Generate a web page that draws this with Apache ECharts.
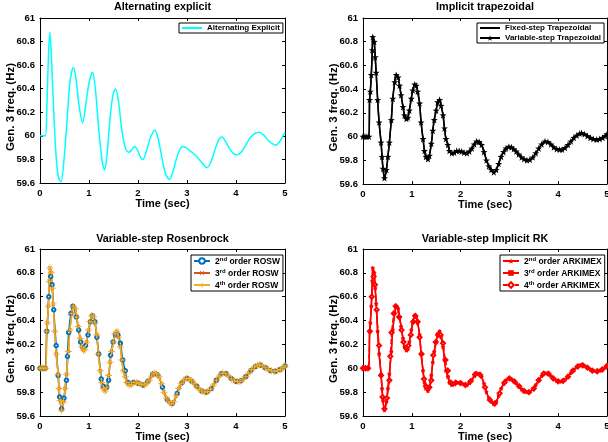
<!DOCTYPE html>
<html>
<head>
<meta charset="utf-8">
<script src="https://cdn.jsdelivr.net/npm/echarts@6/dist/echarts.min.js"></script>
<style>
html,body{margin:0;padding:0;background:#fff;}
#chart{width:608px;height:442px;}
</style>
</head>
<body>
<div id="chart"></div>
<script>
// ---------- data ----------
const X_TICKS = [0, 1, 2, 3, 4, 5];
const Y_TICKS = [59.6, 59.8, 60, 60.2, 60.4, 60.6, 60.8, 61];

const PANEL_TITLES = ['Alternating explicit', 'Implicit trapezoidal', 'Variable-step Rosenbrock', 'Variable-step Implicit RK'];

// Alternating explicit (cyan)
const TIME_AE = [0,0.05,0.11,0.14,0.17,0.2,0.23,0.27,0.31,0.35,0.39,0.43,0.49,0.55,0.61,0.68,0.73,0.8,0.87,0.93,1.0,1.07,1.13,1.2,1.27,1.32,1.37,1.43,1.49,1.54,1.6,1.67,1.74,1.81,1.87,1.93,1.99,2.05,2.1,2.17,2.25,2.34,2.41,2.48,2.56,2.64,2.71,2.78,2.85,2.91,2.98,3.07,3.16,3.25,3.33,3.4,3.48,3.56,3.64,3.71,3.79,3.87,3.95,4.03,4.12,4.21,4.3,4.39,4.47,4.56,4.64,4.72,4.81,4.89,4.96,5.0];
const FREQ_AE = [60,60,60,60.25,60.65,60.88,60.7,60.3,59.95,59.72,59.63,59.61,59.8,60.12,60.45,60.58,60.5,60.25,60.11,60.25,60.45,60.54,60.4,60.05,59.78,59.71,59.85,60.15,60.35,60.4,60.3,60.05,59.9,59.86,59.88,59.91,59.88,59.82,59.8,59.87,59.98,60.05,59.98,59.83,59.68,59.63,59.69,59.8,59.88,59.91,59.9,59.87,59.84,59.8,59.76,59.73,59.77,59.87,59.96,59.99,59.95,59.89,59.85,59.84,59.87,59.93,59.99,60.02,60.03,60.01,59.97,59.94,59.92,59.95,60.0,60.03];

// Implicit solution (trapezoidal / ROSW 3rd,4th / ARKIMEX 2nd,3rd)
const TIME_IMP = [0,0.04,0.08,0.12,0.135,0.15,0.17,0.19,0.2,0.23,0.25,0.27,0.3,0.33,0.37,0.39,0.41,0.44,0.48,0.51,0.54,0.58,0.61,0.65,0.68,0.72,0.75,0.78,0.82,0.85,0.89,0.92,0.95,0.99,1.02,1.06,1.09,1.12,1.16,1.19,1.23,1.26,1.29,1.33,1.36,1.4,1.43,1.46,1.5,1.53,1.57,1.6,1.64,1.67,1.7,1.74,1.77,1.82,1.87,1.92,1.97,2.02,2.07,2.13,2.18,2.23,2.28,2.33,2.38,2.43,2.48,2.53,2.58,2.63,2.68,2.73,2.78,2.83,2.88,2.93,2.99,3.04,3.09,3.14,3.19,3.25,3.3,3.36,3.42,3.48,3.54,3.6,3.66,3.73,3.79,3.85,3.91,3.97,4.03,4.08,4.14,4.2,4.26,4.32,4.38,4.44,4.48,4.54,4.6,4.66,4.72,4.79,4.85,4.91,4.96,5.0];
const FREQ_IMP = [60,60,60,60,60.31,60.38,60.52,60.73,60.84,60.8,60.67,60.54,60.31,60.12,59.95,59.83,59.73,59.65,59.72,59.83,59.95,60.14,60.32,60.46,60.52,60.5,60.43,60.35,60.25,60.18,60.15,60.16,60.22,60.32,60.39,60.44,60.43,60.38,60.28,60.12,59.98,59.88,59.83,59.81,59.84,59.94,60.05,60.14,60.22,60.29,60.31,60.26,60.18,60.07,59.98,59.93,59.88,59.86,59.865,59.88,59.88,59.875,59.865,59.86,59.875,59.9,59.935,59.96,59.955,59.93,59.87,59.8,59.75,59.72,59.7,59.72,59.77,59.83,59.87,59.9,59.915,59.91,59.895,59.875,59.85,59.825,59.81,59.8,59.805,59.825,59.86,59.9,59.935,59.96,59.955,59.935,59.91,59.895,59.89,59.89,59.905,59.93,59.96,59.99,60.01,60.025,60.03,60.02,60.005,59.99,59.98,59.975,59.98,59.99,60.005,60.02];

// Second sampling of the implicit solution (ROSW 2nd order / ARKIMEX 4th order markers)
const TIME_ALT = [0,0.05,0.1,0.14,0.18,0.218,0.245,0.28,0.33,0.37,0.4,0.44,0.49,0.54,0.56,0.585,0.63,0.67,0.74,0.79,0.83,0.88,0.93,0.98,1.03,1.07,1.12,1.16,1.2,1.25,1.29,1.36,1.4,1.44,1.49,1.54,1.59,1.64,1.69,1.74,1.8,1.9,2.0,2.1,2.2,2.3,2.4,2.5,2.6,2.7,2.8,2.9,3.0,3.1,3.2,3.3,3.4,3.5,3.6,3.7,3.8,3.9,4.0,4.1,4.2,4.3,4.4,4.5,4.6,4.7,4.8,4.9,5.0];
const FREQ_ALT = [60,60,60,60.31,60.6,60.77,60.7,60.49,60.19,59.94,59.76,59.66,59.75,59.9,60.1,60.3,60.46,60.52,60.43,60.32,60.22,60.17,60.19,60.28,60.39,60.44,60.39,60.26,60.12,59.91,59.85,59.84,59.9,60.11,60.22,60.28,60.28,60.21,60.07,59.98,59.88,59.88,59.875,59.86,59.89,59.95,59.945,59.84,59.735,59.705,59.79,59.88,59.915,59.89,59.85,59.81,59.8,59.83,59.9,59.955,59.955,59.915,59.89,59.895,59.93,59.98,60.015,60.025,60.005,59.98,59.975,59.99,60.02];

// ---------- helpers ----------
const pairs = (t, f) => t.map((x, i) => [x, f[i]]);
const FONT = 'Liberation Sans, Arial, Helvetica, sans-serif';
const STAR = 'path://M5,0 L6.176,3.382 L9.755,3.455 L6.902,5.618 L7.939,9.045 L5,7 L2.061,9.045 L3.098,5.618 L0.245,3.455 L3.824,3.382 Z';
const PLUS = 'path://M4.3,0 L5.7,0 L5.7,4.3 L10,4.3 L10,5.7 L5.7,5.7 L5.7,10 L4.3,10 L4.3,5.7 L0,5.7 L0,4.3 L4.3,4.3 Z';

const GRIDS = [
  {left: 40, top: 18, width: 245, height: 165, outerBoundsMode: 'none', containLabel: false},
  {left: 363, top: 18, width: 244, height: 166, outerBoundsMode: 'none', containLabel: false},
  {left: 40, top: 249, width: 245, height: 167, outerBoundsMode: 'none', containLabel: false},
  {left: 363, top: 249, width: 244, height: 167, outerBoundsMode: 'none', containLabel: false}
];

const xMin = X_TICKS[0], xMax = X_TICKS[X_TICKS.length - 1], xInt = X_TICKS[1] - X_TICKS[0];
const yMin = Y_TICKS[0], yMax = Y_TICKS[Y_TICKS.length - 1];
const yInt = +(Y_TICKS[1] - Y_TICKS[0]).toFixed(2);

const axisLineStyle = {color: '#000', width: 1};
const xAxes = [], yAxes = [], titles = [];
GRIDS.forEach((g, i) => {
  xAxes.push({
    gridIndex: i, type: 'value', min: xMin, max: xMax, interval: xInt,
    axisLine: {show: true, onZero: false, lineStyle: axisLineStyle},
    axisTick: {show: true, inside: true, length: 3, lineStyle: axisLineStyle},
    axisLabel: {color: '#000', fontFamily: FONT, fontWeight: 'bold', fontSize: 9.5, margin: 5},
    splitLine: {show: false},
    name: 'Time (sec)', nameLocation: 'middle', nameGap: 15, nameMoveOverlap: false,
    nameTextStyle: {color: '#000', fontFamily: FONT, fontWeight: 'bold', fontSize: 11}
  });
  xAxes.push({
    gridIndex: i, type: 'value', position: 'top', min: xMin, max: xMax, interval: xInt,
    axisLine: {show: true, onZero: false, lineStyle: axisLineStyle},
    axisTick: {show: true, inside: true, length: 3, lineStyle: axisLineStyle},
    axisLabel: {show: false}, splitLine: {show: false}
  });
  yAxes.push({
    gridIndex: i, type: 'value', min: yMin, max: yMax, interval: yInt,
    axisLine: {show: true, onZero: false, lineStyle: axisLineStyle},
    axisTick: {show: true, inside: true, length: 3, lineStyle: axisLineStyle},
    axisLabel: {color: '#000', fontFamily: FONT, fontWeight: 'bold', fontSize: 9.5, margin: 5,
      formatter: v => String(+(+v).toFixed(1))},
    splitLine: {show: false},
    name: 'Gen. 3 freq. (Hz)', nameLocation: 'middle', nameGap: 23, nameRotate: 90, nameMoveOverlap: false,
    nameTextStyle: {color: '#000', fontFamily: FONT, fontWeight: 'bold', fontSize: 11.5, padding: [0, 13, 0, 0]}
  });
  yAxes.push({
    gridIndex: i, type: 'value', position: 'right', min: yMin, max: yMax, interval: yInt,
    axisLine: {show: true, onZero: false, lineStyle: axisLineStyle},
    axisTick: {show: true, inside: true, length: 3, lineStyle: axisLineStyle},
    axisLabel: {show: false}, splitLine: {show: false}
  });
  titles.push({
    text: PANEL_TITLES[i], left: g.left + g.width / 2, textAlign: 'center',
    top: i < 2 ? 2 : 234, padding: 0,
    textStyle: {color: '#000', fontFamily: FONT, fontWeight: 'bold', fontSize: 10.8}
  });
});

const C_BLUE = '#0072BD', C_ORANGE = '#D95319', C_YELLOW = '#EDB120';
const CLEAR = 'rgba(0,0,0,0)';

function line(name, grid, data, color, extra) {
  return Object.assign({
    name, type: 'line', xAxisIndex: grid * 2, yAxisIndex: grid * 2,
    data, smooth: 0.3, showSymbol: false, symbol: 'circle',
    lineStyle: {color, width: 1.5}, itemStyle: {color: CLEAR, borderColor: CLEAR},
    animation: false, silent: true
  }, extra || {});
}

const impData = pairs(TIME_IMP, FREQ_IMP);
const altData = pairs(TIME_ALT, FREQ_ALT);

const series = [
  line('Alternating Explicit', 0, pairs(TIME_AE, FREQ_AE), '#00FFFF'),
  line('Fixed-step Trapezoidal', 1, impData, '#000'),
  line('Variable-step Trapezoidal', 1, impData, '#000', {showSymbol: true, symbol: STAR, symbolSize: 7,
    itemStyle: {color: '#000'}}),
  line('2nd order ROSW', 2, altData, C_BLUE, {showSymbol: true, symbol: 'emptyCircle', symbolSize: 3.5,
    itemStyle: {color: C_BLUE, borderColor: C_BLUE, borderWidth: 1}}),
  line('3rd order ROSW', 2, impData, C_ORANGE, {showSymbol: true, symbol: PLUS, symbolRotate: 45, symbolSize: 5,
    itemStyle: {color: C_ORANGE}}),
  line('4th order ROSW', 2, impData, C_YELLOW, {showSymbol: true, symbol: PLUS, symbolSize: 7,
    itemStyle: {color: C_YELLOW}}),
  line('4th order ARKIMEX', 3, altData, '#FF0000', {showSymbol: true, symbol: 'emptyDiamond', symbolSize: 4,
    lineStyle: {color: '#FF0000', width: 1.2, type: 'dashed'},
    itemStyle: {color: '#FF0000', borderColor: '#FF0000', borderWidth: 1}}),
  line('2nd order ARKIMEX', 3, impData, '#FF0000', {showSymbol: true, symbol: STAR, symbolSize: 5,
    itemStyle: {color: '#FF0000'}}),
  line('3rd order ARKIMEX', 3, impData, '#FF0000', {showSymbol: true, symbol: 'rect', symbolSize: 3,
    itemStyle: {color: '#FF0000'}})
];

const supFmt = name => {
  const m = name.match(/^(\d)(nd|rd|th)(.*)$/);
  if (!m) return name;
  return '{n|' + m[1] + '}{s|' + m[2] + '}{n|' + m[3] + '}';
};
const legendText = {
  color: '#000', fontFamily: FONT, fontWeight: 'bold', fontSize: 8,
  rich: {
    n: {color: '#000', fontFamily: FONT, fontWeight: 'bold', fontSize: 8.5, lineHeight: 10, verticalAlign: 'bottom'},
    s: {color: '#000', fontFamily: FONT, fontWeight: 'bold', fontSize: 6, lineHeight: 10, verticalAlign: 'top'}
  }
};
function legend(data, left, top, gap, w) {
  return {
    data, left, top, orient: 'vertical',
    backgroundColor: '#fff', borderColor: '#000', borderWidth: 1, borderRadius: 0,
    padding: [1, 3, 1, 2], itemGap: gap, itemWidth: w, itemHeight: 7,
    textStyle: legendText, formatter: supFmt, selectedMode: false
  };
}

const option = {
  backgroundColor: '#fff',
  animation: false,
  title: titles,
  grid: GRIDS,
  xAxis: xAxes,
  yAxis: yAxes,
  legend: [
    legend(['Alternating Explicit'], 179, 23, 2, 20),
    legend(['Fixed-step Trapezoidal', 'Variable-step Trapezoidal'], 477, 23, 2, 20),
    legend(['2nd order ROSW', '3rd order ROSW', '4th order ROSW'], 191, 255, 2, 16),
    legend(['2nd order ARKIMEX', '3rd order ARKIMEX', '4th order ARKIMEX'], 500, 255, 2, 16)
  ],
  series
};

const chart = echarts.init(document.getElementById('chart'), null, {renderer: 'canvas'});
chart.setOption(option);
</script>
</body>
</html>
